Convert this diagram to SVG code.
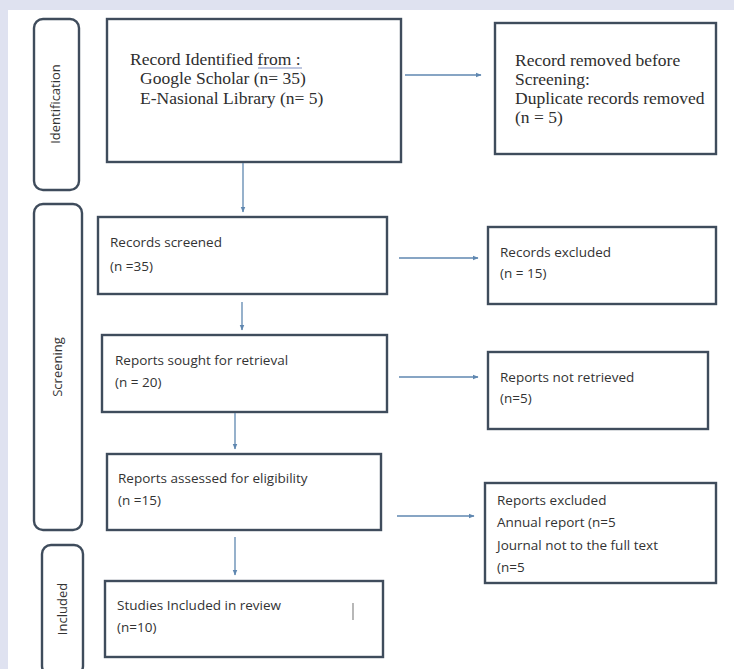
<svg xmlns="http://www.w3.org/2000/svg" width="734" height="669" viewBox="0 0 734 669">
<style>
.box{fill:#ffffff;stroke:#3f4c5c;stroke-width:2.4}
.side{fill:#ffffff;stroke:#3f4c5c;stroke-width:2.4}
.serif{font-family:"Liberation Serif","Times New Roman",serif;font-size:17.5px;fill:#2e2e2e}
.sans{font-family:"Open Sans",Lato,sans-serif;font-size:13.5px;fill:#333333}
.lab{font-family:"Open Sans",Lato,sans-serif;font-size:13px;fill:#333333;text-anchor:middle}
.con{stroke:#5f87b0;stroke-width:1.3;fill:none;marker-end:url(#ah)}
</style>
<defs>
<marker id="ah" viewBox="0 0 10 10" refX="9" refY="5" markerWidth="6" markerHeight="6" orient="auto" markerUnits="userSpaceOnUse">
<path d="M0,1 L10,5 L0,9 Z" fill="#5f87b0"/>
</marker>
</defs>
<rect x="0" y="0" width="734" height="669" fill="#dfe2f0"/>
<rect x="8" y="10" width="726" height="659" fill="#ffffff"/>

<g id="side-identification">
<rect class="side" x="34" y="19" width="45" height="171" rx="9"/>
<text class="lab" transform="translate(60,104) rotate(-90)">Identification</text>
</g>
<g id="side-screening">
<rect class="side" x="34" y="204" width="48" height="326" rx="9"/>
<text class="lab" transform="translate(62,367) rotate(-90)">Screening</text>
</g>
<g id="side-included">
<rect class="side" x="42" y="545" width="41" height="130" rx="9"/>
<text class="lab" transform="translate(67,609) rotate(-90)">Included</text>
</g>

<g id="identified">
<rect class="box" x="107" y="19" width="294" height="143"/>
<text class="serif" x="130" y="65">Record Identified from :</text>
<line x1="258" y1="68" x2="302" y2="68" stroke="#7f8fc0" stroke-width="1"/>
<text class="serif" x="140" y="84">Google Scholar (n= 35)</text>
<text class="serif" x="140" y="104">E-Nasional Library (n= 5)</text>
</g>
<g id="removed">
<rect class="box" x="495" y="23" width="221" height="131"/>
<text class="serif" x="515" y="66">Record removed before</text>
<text class="serif" x="515" y="85">Screening:</text>
<text class="serif" x="515" y="104">Duplicate records removed</text>
<text class="serif" x="515" y="123">(n = 5)</text>
</g>
<g id="screened">
<rect class="box" x="98" y="217" width="289" height="77"/>
<text class="sans" x="110" y="247">Records screened</text>
<text class="sans" x="110" y="271">(n =35)</text>
</g>
<g id="excluded">
<rect class="box" x="488" y="227" width="228" height="77"/>
<text class="sans" x="500" y="257">Records excluded</text>
<text class="sans" x="500" y="278">(n = 15)</text>
</g>
<g id="sought">
<rect class="box" x="102" y="335" width="285" height="77"/>
<text class="sans" x="115" y="365">Reports sought for retrieval</text>
<text class="sans" x="115" y="387">(n = 20)</text>
</g>
<g id="notretrieved">
<rect class="box" x="488" y="352" width="220" height="77"/>
<text class="sans" x="500" y="382">Reports not retrieved</text>
<text class="sans" x="500" y="403">(n=5)</text>
</g>
<g id="assessed">
<rect class="box" x="107" y="454" width="274" height="76"/>
<text class="sans" x="118" y="483">Reports assessed for eligibility</text>
<text class="sans" x="118" y="505">(n =15)</text>
</g>
<g id="reportsexcluded">
<rect class="box" x="485" y="483" width="231" height="100"/>
<text class="sans" x="497" y="505">Reports excluded</text>
<text class="sans" x="497" y="527">Annual report (n=5</text>
<text class="sans" x="497" y="550">Journal not to the full text</text>
<text class="sans" x="497" y="572">(n=5</text>
</g>
<g id="included">
<rect class="box" x="105" y="581" width="278" height="76"/>
<text class="sans" x="117" y="610">Studies Included in review</text>
<text class="sans" x="117" y="632">(n=10)</text>
<line x1="353" y1="603" x2="353" y2="620" stroke="#888888" stroke-width="1.2"/>
</g>

<g id="connectors">
<line class="con" x1="243" y1="163" x2="243" y2="212"/>
<line class="con" x1="405" y1="75" x2="481" y2="75"/>
<line class="con" x1="399" y1="258" x2="478" y2="258"/>
<line class="con" x1="242" y1="302" x2="242" y2="330"/>
<line class="con" x1="399" y1="377" x2="478" y2="377"/>
<line class="con" x1="235" y1="413" x2="235" y2="449"/>
<line class="con" x1="397" y1="516" x2="474" y2="516"/>
<line class="con" x1="235" y1="537" x2="235" y2="575"/>
</g>
</svg>
